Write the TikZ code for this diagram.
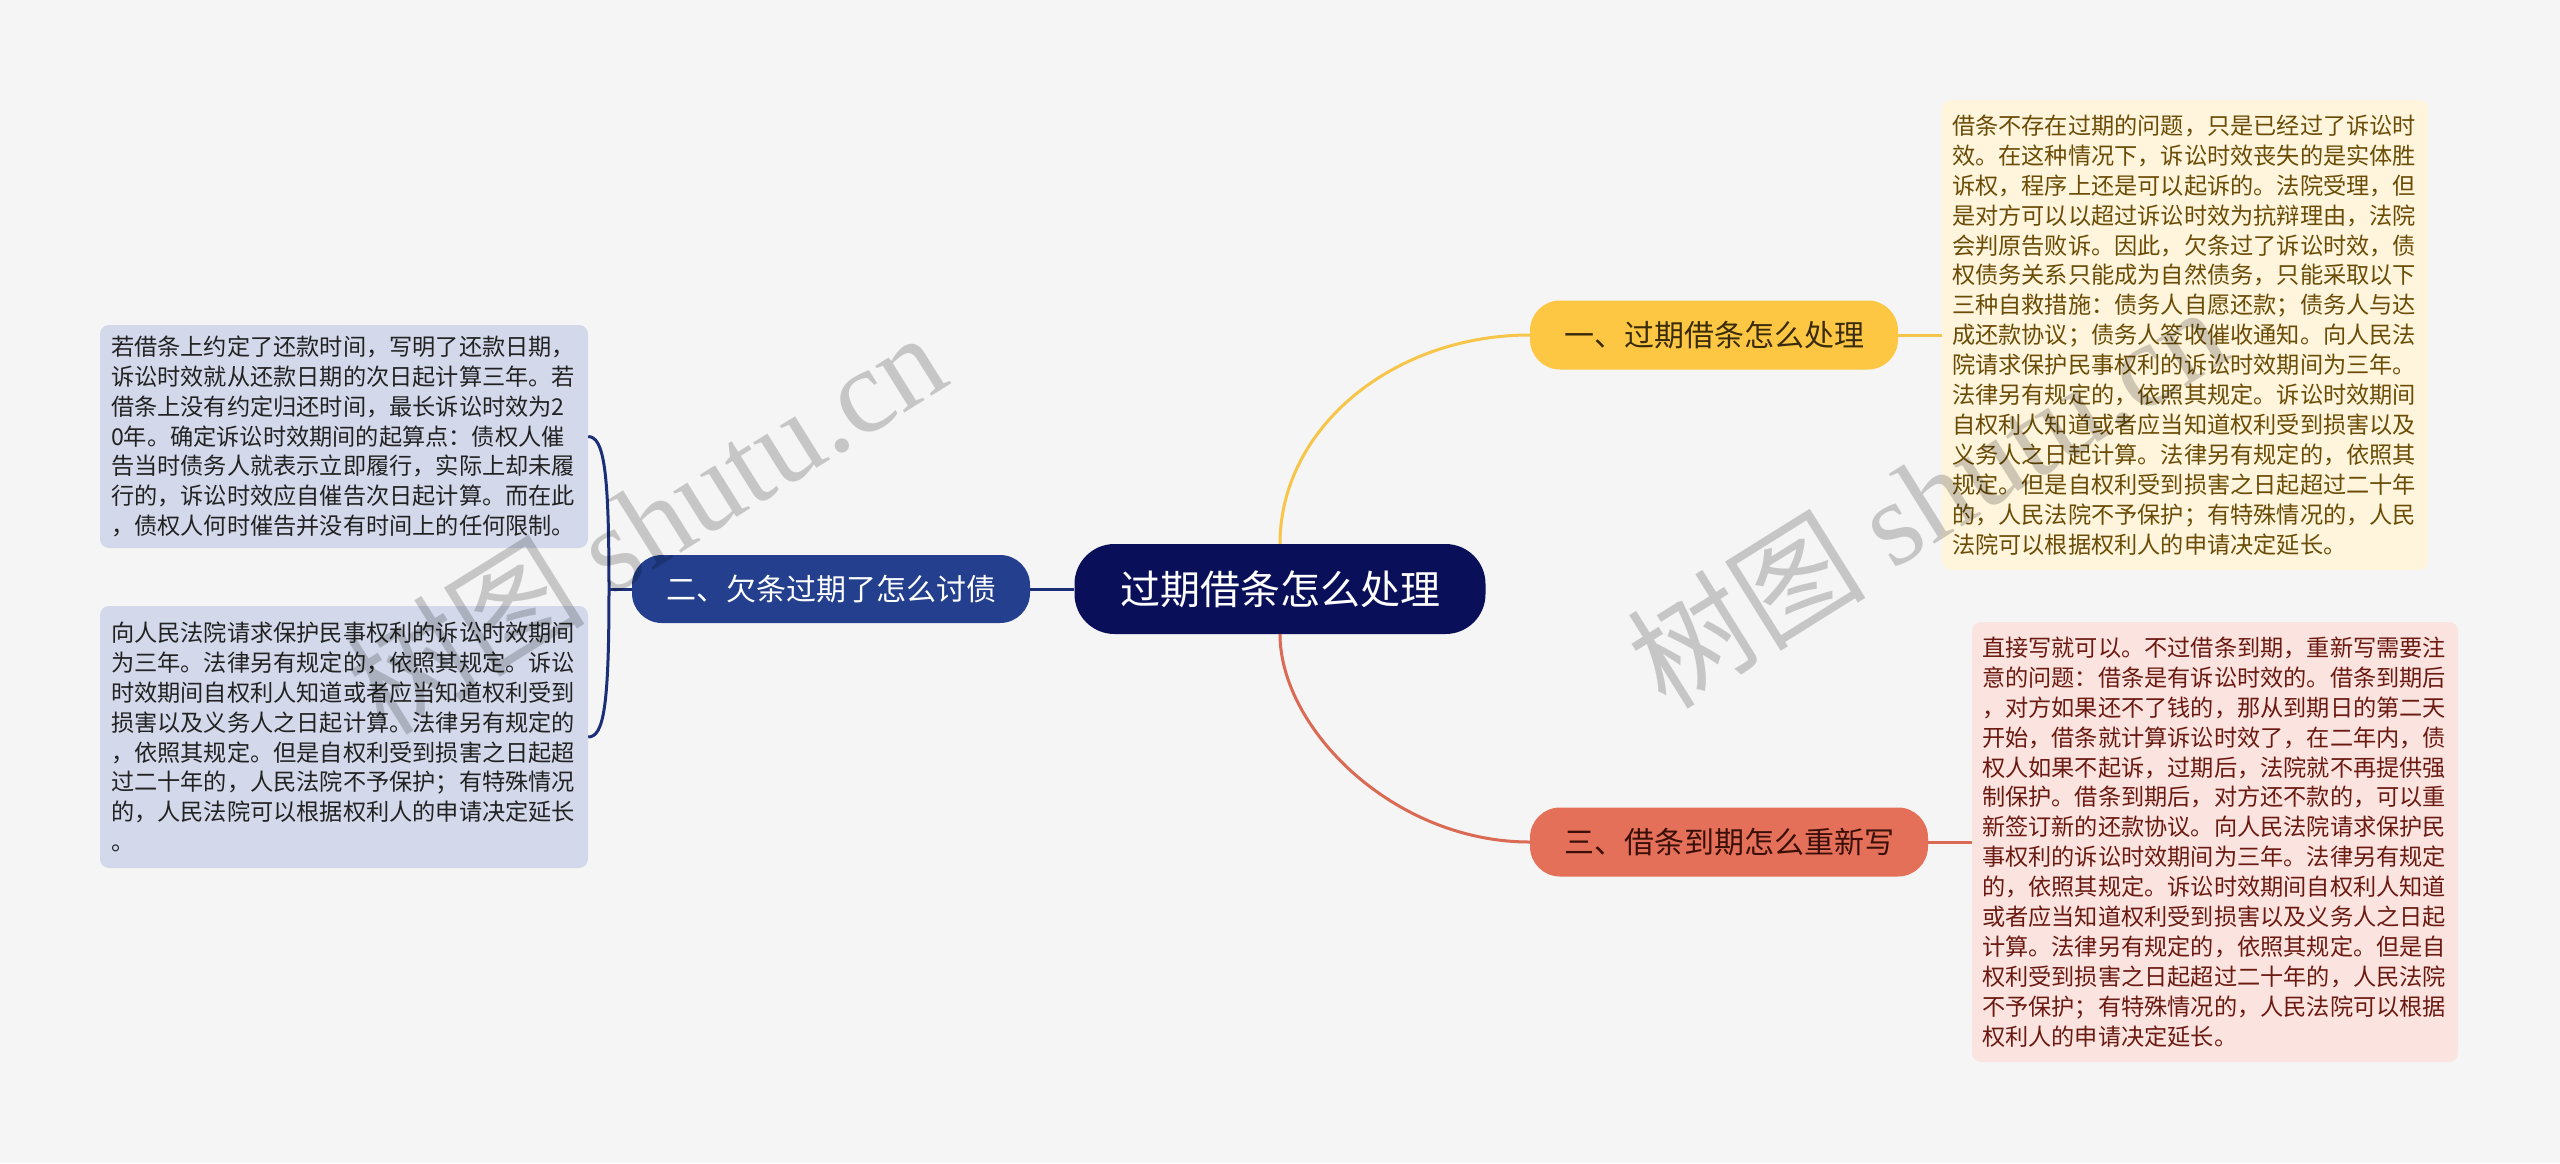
\documentclass[tikz,border=0pt]{standalone}
\usepackage{fontspec}
\setmainfont{Noto Sans CJK SC}
\newfontfamily\wmlatin{Liberation Serif}
\definecolor{bg}{HTML}{F5F5F5}
\definecolor{rootc}{HTML}{0A0F5A}
\definecolor{yel}{HTML}{FDC744}
\definecolor{yeltxt}{HTML}{3A2C0A}
\definecolor{yelline}{HTML}{F6C54A}
\definecolor{blu}{HTML}{233F8D}
\definecolor{bluline}{HTML}{1B2F78}
\definecolor{redc}{HTML}{E4705A}
\definecolor{redtxt}{HTML}{3A0F08}
\definecolor{redline}{HTML}{DA6A53}
\definecolor{trfill}{HTML}{FEF5DC}
\definecolor{trtxt}{HTML}{6B4C06}
\definecolor{brfill}{HTML}{FBE4DF}
\definecolor{brtxt}{HTML}{6B1A12}
\definecolor{lfill}{HTML}{D3D9EB}
\definecolor{ltxt}{HTML}{222222}
\tikzset{
  pill/.style={rounded corners=30pt, inner sep=0pt, minimum height=69pt, font=\fontsize{30}{30}\selectfont},
  textbox/.style={rounded corners=9pt, align=left, inner xsep=10pt, inner ysep=0pt, text width=466pt, font=\fontsize{23.2}{29.9}\selectfont},
  conn/.style={line width=3pt},
  wm/.style={text=black, text opacity=0.19, anchor=base west, rotate=32, inner sep=0pt, font=\fontsize{120}{120}\selectfont}
}
\begin{document}
\begin{tikzpicture}[x=1pt,y=-1pt]
\useasboundingbox (0,0) rectangle (2560,1163);
\fill[bg] (0,0) rectangle (2560,1163);

% nodes
\node[fill=rootc, text=white, rounded corners=40pt, inner sep=0pt, minimum width=411pt, minimum height=90pt, font=\fontsize{40}{40}\selectfont] (root) at (1280,589) {过期借条怎么处理};
\node[pill, fill=yel, text=yeltxt, minimum width=368pt] (b1) at (1714,335) {一、过期借条怎么处理};
\node[pill, fill=blu, text=white, minimum width=398pt, minimum height=68pt] (b2) at (831,589) {二、欠条过期了怎么讨债};
\node[pill, fill=redc, text=redtxt, minimum width=398pt] (b3) at (1729,842) {三、借条到期怎么重新写};

\node[textbox, fill=trfill, text=trtxt, minimum width=486pt, minimum height=470pt] (t1) at (2185,335) {借条不存在过期的问题，只是已经过了诉讼时\\效。在这种情况下，诉讼时效丧失的是实体胜\\诉权，程序上还是可以起诉的。法院受理，但\\是对方可以以超过诉讼时效为抗辩理由，法院\\会判原告败诉。因此，欠条过了诉讼时效，债\\权债务关系只能成为自然债务，只能采取以下\\三种自救措施：债务人自愿还款；债务人与达\\成还款协议；债务人签收催收通知。向人民法\\院请求保护民事权利的诉讼时效期间为三年。\\法律另有规定的，依照其规定。诉讼时效期间\\自权利人知道或者应当知道权利受到损害以及\\义务人之日起计算。法律另有规定的，依照其\\规定。但是自权利受到损害之日起超过二十年\\的，人民法院不予保护；有特殊情况的，人民\\法院可以根据权利人的申请决定延长。};

\node[textbox, fill=brfill, text=brtxt, minimum width=486pt, minimum height=440pt] (t3) at (2215,842) {直接写就可以。不过借条到期，重新写需要注\\意的问题：借条是有诉讼时效的。借条到期后\\，对方如果还不了钱的，那从到期日的第二天\\开始，借条就计算诉讼时效了，在二年内，债\\权人如果不起诉，过期后，法院就不再提供强\\制保护。借条到期后，对方还不款的，可以重\\新签订新的还款协议。向人民法院请求保护民\\事权利的诉讼时效期间为三年。法律另有规定\\的，依照其规定。诉讼时效期间自权利人知道\\或者应当知道权利受到损害以及义务人之日起\\计算。法律另有规定的，依照其规定。但是自\\权利受到损害之日起超过二十年的，人民法院\\不予保护；有特殊情况的，人民法院可以根据\\权利人的申请决定延长。};

\node[textbox, fill=lfill, text=ltxt, minimum width=488pt, minimum height=223pt] (l1) at (344,436.5) {若借条上约定了还款时间，写明了还款日期，\\诉讼时效就从还款日期的次日起计算三年。若\\借条上没有约定归还时间，最长诉讼时效为2\\0年。确定诉讼时效期间的起算点：债权人催\\告当时债务人就表示立即履行，实际上却未履\\行的，诉讼时效应自催告次日起计算。而在此\\，债权人何时催告并没有时间上的任何限制。};

\node[textbox, fill=lfill, text=ltxt, minimum width=488pt, minimum height=262pt] (l2) at (344,737) {向人民法院请求保护民事权利的诉讼时效期间\\为三年。法律另有规定的，依照其规定。诉讼\\时效期间自权利人知道或者应当知道权利受到\\损害以及义务人之日起计算。法律另有规定的\\，依照其规定。但是自权利受到损害之日起超\\过二十年的，人民法院不予保护；有特殊情况\\的，人民法院可以根据权利人的申请决定延长\\。};

% connectors
\draw[conn, yelline] (root.north) .. controls (1280,428) and (1393,335) .. (b1.west);
\draw[conn, redline] (root.south) .. controls (1280,728) and (1393,842) .. (b3.west);
\draw[conn, yelline] (b1.east) -- (t1.west);
\draw[conn, redline] (b3.east) -- (t3.west);
\draw[conn, bluline] (root.west) -- (b2.east);
\coordinate (bj) at (609,589);
\draw[conn, bluline] (b2.west) -- (bj);
\draw[conn, bluline] (l1.east) .. controls (604,437) and (609,470) .. (bj) .. controls (609,705) and (604,737) .. (l2.east);

% watermarks
\node[wm] (wm1) at (385,738) {树图 {\wmlatin shutu.cn}};
\node[wm] (wm2) at (1666,712) {树图 {\wmlatin shutu.cn}};
\end{tikzpicture}
\end{document}
